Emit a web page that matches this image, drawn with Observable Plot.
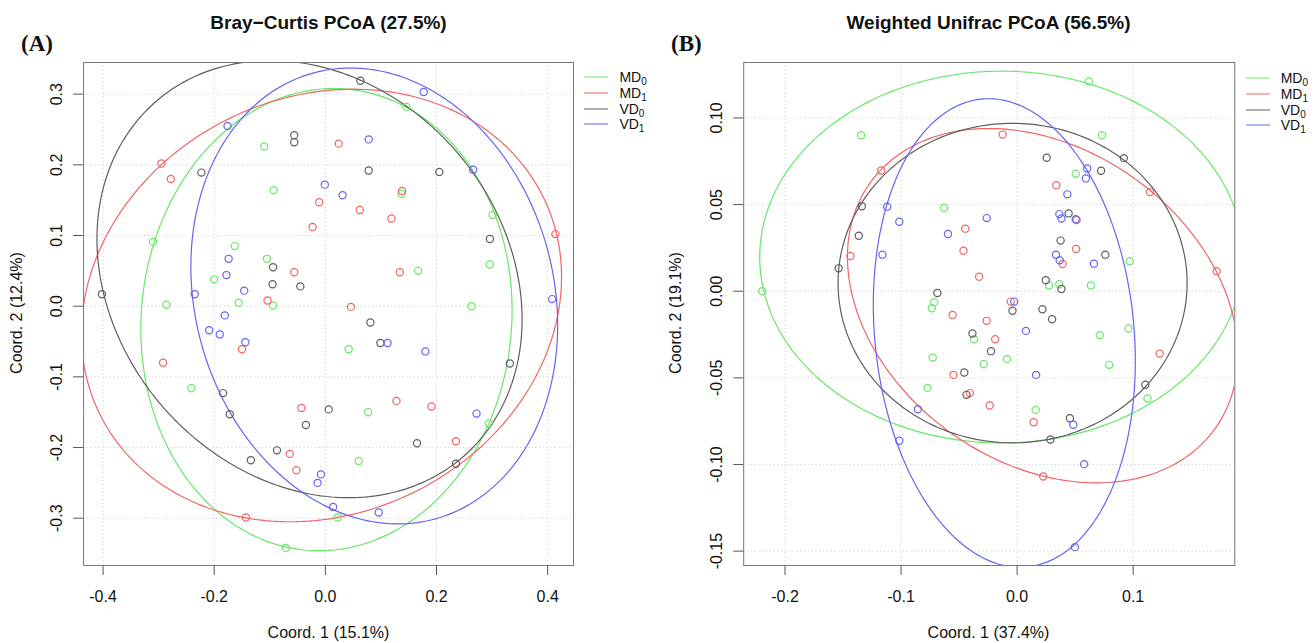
<!DOCTYPE html>
<html><head><meta charset="utf-8">
<script src="https://cdn.jsdelivr.net/npm/d3@7"></script>
<script src="https://cdn.jsdelivr.net/npm/@observablehq/plot@0.6"></script>
<style>
body{margin:0;background:#fff;}
#wrap{position:relative;width:1314px;height:643px;overflow:hidden;font-family:"Liberation Sans",Arial,sans-serif;color:#111;}
.panel{position:absolute;top:0;}
.title{position:absolute;font-weight:bold;font-size:19px;transform:translate(-50%,-50%);white-space:nowrap;}
.tag{position:absolute;font-family:"Liberation Serif","Times New Roman",serif;font-weight:bold;font-size:23px;transform:translateY(-50%);}
.xlab{position:absolute;font-size:16px;transform:translate(-50%,-50%);white-space:nowrap;}
.ylab{position:absolute;font-size:16px;transform:translate(-50%,-50%) rotate(-90deg);white-space:nowrap;}
.legend{position:absolute;font-size:14px;}
.legend .row{position:absolute;left:0;display:flex;align-items:center;white-space:nowrap;transform:translateY(-50%);line-height:15px;}
.legend .sw{width:24px;height:0;border-top:1.4px solid;margin-right:11px;}
.legend sub{font-size:10px;vertical-align:-3px;line-height:0;}
</style>
</head><body>
<div id="wrap"></div>
<script>
// ---------- data ----------
const groups = ["MD0", "MD1", "VD0", "VD1"];
const groupBase = ["MD", "MD", "VD", "VD"];
const groupSub = ["0", "1", "0", "1"];
const colors = ["#66e866", "#f26464", "#5e5e5e", "#6464f2"];

// Panel A: Bray-Curtis PCoA
const bcTitle = "Bray\u2212Curtis PCoA (27.5%)";
const bcXLabel = "Coord. 1 (15.1%)";
const bcYLabel = "Coord. 2 (12.4%)";
const bcXTicks = [-0.4, -0.2, 0.0, 0.2, 0.4];
const bcYTicks = [-0.3, -0.2, -0.1, 0.0, 0.1, 0.2, 0.3];
const bcXDomain = [-0.435, 0.4465];
const bcYDomain = [-0.3669, 0.3448];

const bcMD0x = [-0.110,-0.093,-0.310,-0.163,-0.105,-0.200,-0.156,-0.286,-0.094,0.146,0.137,0.301,0.296,0.167,0.263,-0.241,0.042,0.077,0.060,0.294,0.022,-0.071];
const bcMD0y = [0.226,0.164,0.091,0.085,0.067,0.038,0.005,0.002,0.001,0.282,0.159,0.129,0.059,0.050,0.000,-0.116,-0.061,-0.150,-0.219,-0.166,-0.299,-0.342];
const bcMD1x = [-0.295,-0.278,0.024,-0.011,0.062,-0.023,0.119,0.138,0.414,-0.056,0.134,-0.104,0.046,-0.292,-0.150,-0.043,0.128,0.191,0.235,-0.064,-0.052,-0.143];
const bcMD1y = [0.202,0.180,0.230,0.147,0.136,0.112,0.124,0.163,0.102,0.048,0.048,0.008,-0.001,-0.080,-0.061,-0.144,-0.134,-0.142,-0.191,-0.209,-0.232,-0.299];
const bcVD0x = [-0.402,-0.223,-0.056,-0.056,0.063,0.078,0.205,0.296,-0.094,-0.095,-0.045,0.081,0.099,0.332,-0.184,-0.172,0.006,-0.035,-0.087,-0.134,0.165,0.235];
const bcVD0y = [0.017,0.189,0.242,0.232,0.319,0.192,0.190,0.095,0.055,0.031,0.028,-0.023,-0.052,-0.081,-0.123,-0.153,-0.146,-0.168,-0.204,-0.218,-0.194,-0.223];
const bcVD1x = [-0.176,0.177,0.078,0.266,-0.001,0.031,-0.174,-0.178,-0.146,-0.235,0.408,-0.181,-0.209,-0.190,-0.144,0.112,0.180,0.272,-0.008,-0.014,0.014,0.096];
const bcVD1y = [0.255,0.303,0.236,0.193,0.172,0.157,0.067,0.044,0.022,0.017,0.010,-0.013,-0.034,-0.040,-0.051,-0.052,-0.064,-0.152,-0.238,-0.250,-0.284,-0.292];

// ellipse parameters: centre, half extents, cosine of tilt
const bcEllCx = [0.002, -0.007, -0.0285, 0.088];
const bcEllCy = [-0.019, 0.001, 0.0383, 0.0145];
const bcEllRx = [0.334, 0.432, 0.3825, 0.330];
const bcEllRy = [0.327, 0.306, 0.3093, 0.3225];
const bcEllC  = [0.04, 0.132, -0.184, -0.129];

// Panel B: Weighted Unifrac PCoA
const wuTitle = "Weighted Unifrac PCoA (56.5%)";
const wuXLabel = "Coord. 1 (37.4%)";
const wuYLabel = "Coord. 2 (19.1%)";
const wuXTicks = [-0.2, -0.1, 0.0, 0.1];
const wuYTicks = [-0.15, -0.10, -0.05, 0.00, 0.05, 0.10];
const wuXDomain = [-0.2356, 0.1876];
const wuYDomain = [-0.1583, 0.1320];

const wuMD0x = [-0.2196,-0.1345,0.0618,0.0731,-0.0629,0.0505,0.0971,0.0276,0.0364,0.0636,-0.0713,-0.0735,-0.0371,-0.0727,-0.0287,-0.0087,-0.0771,0.0713,0.0960,0.0793,0.1124,0.0160];
const wuMD0y = [0.000,0.090,0.121,0.090,0.048,0.0678,0.0173,0.0033,0.0040,0.0033,-0.0063,-0.0098,-0.0277,-0.0383,-0.0421,-0.0392,-0.0558,-0.0254,-0.0215,-0.0425,-0.0619,-0.0685];
const wuMD1x = [-0.0124,-0.1171,0.1145,0.0338,0.0513,-0.0447,-0.0462,0.0509,-0.1436,0.0393,0.1720,-0.0327,-0.0055,-0.0556,-0.0262,-0.0189,0.1229,-0.0549,-0.0407,-0.0236,0.0142,0.0225];
const wuMD1y = [0.0904,0.0697,0.0572,0.0612,0.0411,0.0361,0.0234,0.0244,0.0203,0.0157,0.0115,0.0084,-0.0060,-0.0137,-0.0171,-0.0277,-0.0360,-0.0483,-0.0588,-0.0660,-0.0756,-0.1069];
const wuVD0x = [0.0255,0.0920,0.0724,-0.1338,-0.1364,-0.1538,0.0444,0.0375,0.0760,0.0247,0.0382,-0.0687,-0.0040,0.0218,0.0302,-0.0385,-0.0225,-0.0455,-0.0436,0.1105,0.0455,0.0287];
const wuVD0y = [0.0770,0.0768,0.0695,0.0490,0.0320,0.0132,0.0449,0.0292,0.0211,0.0063,0.0013,-0.0010,-0.0113,-0.0104,-0.0162,-0.0244,-0.0346,-0.0469,-0.0598,-0.0540,-0.0733,-0.0856];
const wuVD1x = [-0.1120,-0.1015,-0.1160,-0.0262,-0.0596,0.0604,0.0593,0.0433,0.0364,0.0382,0.0505,0.0335,0.0367,0.0662,-0.0025,0.0076,0.0164,-0.0855,0.0484,-0.1015,0.0578,0.0498];
const wuVD1y = [0.0488,0.0401,0.0211,0.0422,0.0330,0.0708,0.0651,0.0559,0.0445,0.0420,0.0415,0.0211,0.0179,0.0159,-0.0060,-0.0229,-0.0483,-0.0681,-0.0771,-0.0863,-0.0998,-0.1477];

const wuEllCx = [-0.0135, 0.022, -0.0039, -0.011];
const wuEllCy = [0.0197, -0.00835, 0.0047, -0.0241];
const wuEllRx = [0.2083, 0.1682, 0.1504, 0.1129];
const wuEllRy = [0.1073, 0.10225, 0.0922, 0.1352];
const wuEllC  = [0.0, -0.276, 0.0, -0.12];

// ---------- build ----------
function pointsTable(xs, ys) {
  const out = [];
  groups.forEach((g, i) => xs[i].forEach((x, j) => out.push({group: g, x, y: ys[i][j]})));
  return out;
}
function ellipseTable(cx, cy, rx, ry, c) {
  const out = [];
  groups.forEach((g, i) => {
    const d = Math.acos(c[i]);
    for (let k = 0; k < 240; k++) {
      const t = (k / 240) * 2 * Math.PI;
      out.push({group: g, x: cx[i] + rx[i] * Math.cos(t), y: cy[i] + ry[i] * Math.cos(t - d)});
    }
  });
  return out;
}

function panel(cfg) {
  const pts = pointsTable(cfg.xs, cfg.ys);
  const ell = ellipseTable(cfg.ecx, cfg.ecy, cfg.erx, cfg.ery, cfg.ec);
  return Plot.plot({
    width: cfg.width, height: 643,
    marginLeft: cfg.ml, marginRight: cfg.mr, marginTop: 62, marginBottom: 78,
    style: {fontFamily: "Liberation Sans, Arial, sans-serif", fontSize: "16px", background: "transparent"},
    x: {domain: cfg.xDomain},
    y: {domain: cfg.yDomain},
    color: {domain: groups, range: colors},
    marks: [
      Plot.gridX(cfg.xTicks, {stroke: "#cfcfcf", strokeOpacity: 1, strokeDasharray: "1.2,2.6"}),
      Plot.gridY(cfg.yTicks, {stroke: "#cfcfcf", strokeOpacity: 1, strokeDasharray: "1.2,2.6"}),
      Plot.line(ell, {x: "x", y: "y", z: "group", stroke: "group", curve: "linear-closed", strokeWidth: 1.2, clip: true}),
      Plot.dot(pts, {x: "x", y: "y", stroke: "group", r: 3.6, strokeWidth: 1.2, fill: "none"}),
      Plot.axisX(cfg.xTicks, {tickSize: 10, tickPadding: 15, tickFormat: cfg.xf, stroke: "#555", fill: "#111", fontSize: 16, label: null}),
      Plot.axisY(cfg.yTicks, {tickSize: 10, tickPadding: 17, tickRotate: -90, lineAnchor: "middle", tickFormat: cfg.yf, stroke: "#555", fill: "#111", fontSize: 16, label: null}),
      Plot.frame({stroke: "#777"})
    ]
  });
}

const wrap = document.getElementById("wrap");
function addDiv(cls, html, left, top) {
  const d = document.createElement("div");
  d.className = cls; d.innerHTML = html;
  d.style.left = left + "px"; d.style.top = top + "px";
  wrap.appendChild(d); return d;
}
function legend(left, top, steps) {
  const lg = addDiv("legend", "", left, top);
  groups.forEach((g, i) => {
    const r = document.createElement("div");
    r.className = "row";
    r.style.top = steps[i] + "px";
    r.innerHTML = `<span class="sw" style="border-color:${colors[i]}"></span><span>${groupBase[i]}<sub>${groupSub[i]}</sub></span>`;
    lg.appendChild(r);
  });
}

const pA = document.createElement("div"); pA.className = "panel"; pA.style.left = "0px";
pA.appendChild(panel({width: 660, ml: 83.1, mr: 87, xDomain: bcXDomain, yDomain: bcYDomain,
  xTicks: bcXTicks, yTicks: bcYTicks, xf: d => d.toFixed(1), yf: d => d.toFixed(1),
  xs: [bcMD0x, bcMD1x, bcVD0x, bcVD1x], ys: [bcMD0y, bcMD1y, bcVD0y, bcVD1y],
  ecx: bcEllCx, ecy: bcEllCy, erx: bcEllRx, ery: bcEllRy, ec: bcEllC}));
wrap.appendChild(pA);

const pB = document.createElement("div"); pB.className = "panel"; pB.style.left = "660px";
pB.appendChild(panel({width: 654, ml: 83.2, mr: 79.7, xDomain: wuXDomain, yDomain: wuYDomain,
  xTicks: wuXTicks, yTicks: wuYTicks, xf: d => d.toFixed(1), yf: d => d.toFixed(2),
  xs: [wuMD0x, wuMD1x, wuVD0x, wuVD1x], ys: [wuMD0y, wuMD1y, wuVD0y, wuVD1y],
  ecx: wuEllCx, ecy: wuEllCy, erx: wuEllRx, ery: wuEllRy, ec: wuEllC}));
wrap.appendChild(pB);

addDiv("title", bcTitle, 328.5, 23);
addDiv("title", wuTitle, 988.5, 23);
addDiv("tag", "(A)", 21, 44);
addDiv("tag", "(B)", 671, 44);
addDiv("xlab", bcXLabel, 328.5, 633);
addDiv("xlab", wuXLabel, 988.5, 633);
addDiv("ylab", bcYLabel, 17, 313);
addDiv("ylab", wuYLabel, 676, 313);
legend(584.4, 0, [77, 93, 109, 124]);
legend(1245.7, 0, [78, 93.5, 110, 125]);
</script>
</body></html>
